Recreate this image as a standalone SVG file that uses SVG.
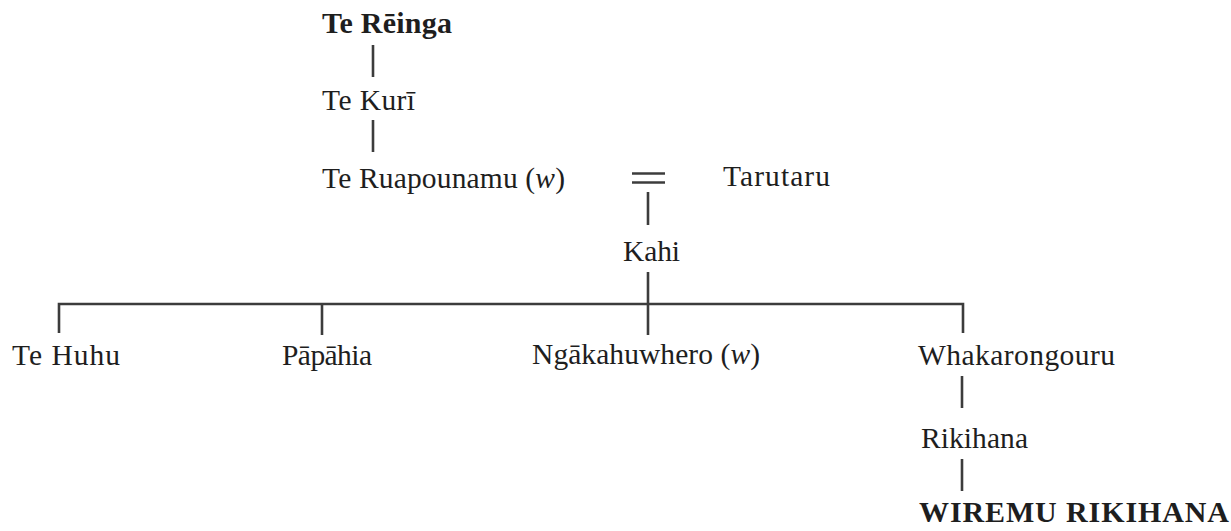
<svg xmlns="http://www.w3.org/2000/svg" width="1231" height="531" viewBox="0 0 1231 531">
  <style>
    .name { font-family: "Liberation Serif", "Times New Roman", serif; font-size: 29.5px; fill: #1e1e1e; }
    .bold { font-weight: bold; font-size: 30px; }
    .it { font-style: italic; }
    .link { stroke: #3c3c3c; stroke-width: 2.6; fill: none; stroke-linecap: butt; }
  </style>
  <rect width="1231" height="531" fill="#ffffff"/>

  <!-- descent lines and marriage sign -->
  <g id="connectors">
    <line class="link" x1="373" y1="45" x2="373" y2="77"/>
    <line class="link" x1="373" y1="120" x2="373" y2="152"/>
    <line class="link" x1="632" y1="173.5" x2="665" y2="173.5"/>
    <line class="link" x1="632" y1="182.5" x2="665" y2="182.5"/>
    <line class="link" x1="648" y1="192" x2="648" y2="225"/>
    <line class="link" x1="648" y1="272" x2="648" y2="335"/>
    <polyline class="link" points="59,333 59,304 963,304 963,333"/>
    <line class="link" x1="322" y1="304" x2="322" y2="335"/>
    <line class="link" x1="962" y1="376" x2="962" y2="408"/>
    <line class="link" x1="962" y1="459" x2="962" y2="491"/>
  </g>

  <g id="te-reinga"><text class="name bold" x="322" y="33" textLength="130">Te Rēinga</text></g>
  <g id="te-kuri"><text class="name" x="322" y="110" textLength="93">Te Kurī</text></g>
  <g id="te-ruapounamu"><text class="name" x="322" y="188" textLength="243">Te Ruapounamu (<tspan class="it">w</tspan>)</text></g>
  <g id="tarutaru"><text class="name" x="723" y="186" textLength="107">Tarutaru</text></g>
  <g id="kahi"><text class="name" x="623" y="261" textLength="57">Kahi</text></g>
  <g id="te-huhu"><text class="name" x="12" y="365" textLength="108">Te Huhu</text></g>
  <g id="papahia"><text class="name" x="282" y="365" textLength="90">Pāpāhia</text></g>
  <g id="ngakahuwhero"><text class="name" x="532" y="364" textLength="228">Ngākahuwhero (<tspan class="it">w</tspan>)</text></g>
  <g id="whakarongouru"><text class="name" x="918" y="365" textLength="197">Whakarongouru</text></g>
  <g id="rikihana"><text class="name" x="921" y="448" textLength="107">Rikihana</text></g>
  <g id="wiremu-rikihana"><text class="name bold" x="919" y="522" textLength="310">WIREMU RIKIHANA</text></g>
</svg>
